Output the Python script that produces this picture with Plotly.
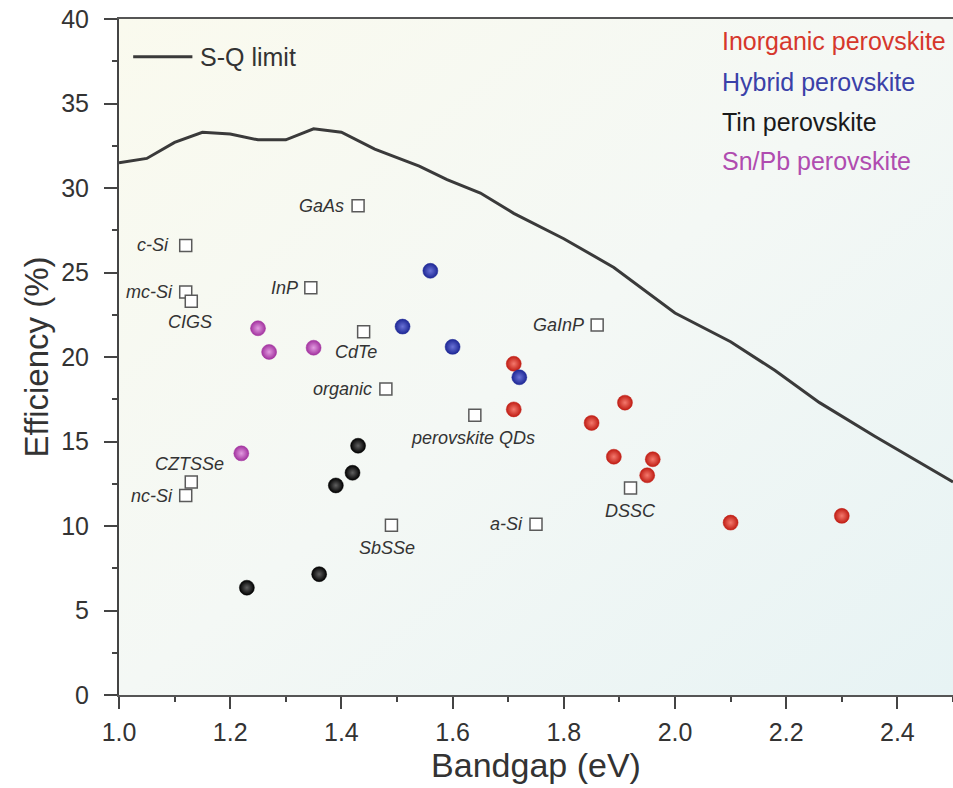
import base64
import plotly.graph_objects as go

# Shockley-Queisser limit curve
sq_bandgap = [1.00, 1.05, 1.10, 1.15, 1.20, 1.25, 1.30, 1.35, 1.40, 1.46, 1.54, 1.59,
              1.65, 1.71, 1.80, 1.89, 2.00, 2.10, 2.18, 2.26, 2.36, 2.50]
sq_eff = [31.5, 31.75, 32.7, 33.3, 33.2, 32.85, 32.85, 33.5, 33.3, 32.3, 31.3, 30.5,
          29.7, 28.5, 27.0, 25.3, 22.6, 20.9, 19.2, 17.3, 15.3, 12.6]

# Perovskite families
inorg_bandgap = [1.71, 1.71, 1.85, 1.91, 1.89, 1.96, 1.95, 2.10, 2.30]
inorg_eff = [19.6, 16.9, 16.1, 17.3, 14.1, 13.95, 13.0, 10.2, 10.6]

hybrid_bandgap = [1.56, 1.51, 1.60, 1.72]
hybrid_eff = [25.1, 21.8, 20.6, 18.8]

tin_bandgap = [1.43, 1.42, 1.39, 1.36, 1.23]
tin_eff = [14.75, 13.15, 12.4, 7.15, 6.35]

snpb_bandgap = [1.25, 1.27, 1.35, 1.22]
snpb_eff = [21.7, 20.3, 20.55, 14.3]

# Other photovoltaic technologies
tech_names = ["GaAs", "c-Si", "mc-Si", "CIGS", "InP", "CdTe", "organic", "perovskite QDs",
              "GaInP", "DSSC", "a-Si", "SbSSe", "CZTSSe", "nc-Si"]
tech_bandgap = [1.43, 1.12, 1.12, 1.13, 1.345, 1.44, 1.48, 1.64,
                1.86, 1.92, 1.75, 1.49, 1.13, 1.12]
tech_eff = [28.95, 26.6, 23.85, 23.3, 24.1, 21.5, 18.1, 16.55,
            21.9, 12.25, 10.1, 10.05, 12.6, 11.8]

# Pixel offsets (dx, dy, anchor) of each technology label relative to its marker
tech_label_place = [(-12, 0, "right"), (-15, 0, "right"), (-11, 0, "right"), (-1, -21, "center"),
                    (-11, 0, "right"), (-8, -20, "center"), (-12, 0, "right"), (-2, -23, "center"),
                    (-11, 0, "right"), (0, -23, "center"), (-11, 0, "right"), (-4, -23, "center"),
                    (-2, 18, "center"), (-11, 0, "right")]

category_names = ["Inorganic perovskite", "Hybrid perovskite", "Tin perovskite", "Sn/Pb perovskite"]
category_colors = ["#d6372c", "#3a41a8", "#1a1a1a", "#b04cb0"]

FONT = "Liberation Sans, Arial, sans-serif"

# Soft diagonal background wash for the plotting area
bg_svg = (
    '<svg xmlns="http://www.w3.org/2000/svg" width="100" height="100" preserveAspectRatio="none">'
    '<defs><linearGradient id="g" x1="0" y1="0" x2="1" y2="1">'
    '<stop offset="0" stop-color="#fafaee"/>'
    '<stop offset="0.5" stop-color="#f4f8f5"/>'
    '<stop offset="1" stop-color="#e7f3f4"/>'
    '</linearGradient></defs>'
    '<rect width="100" height="100" fill="url(#g)"/></svg>'
)
bg_uri = "data:image/svg+xml;base64," + base64.b64encode(bg_svg.encode()).decode()

fig = go.Figure()

fig.add_trace(go.Scatter(
    x=sq_bandgap, y=sq_eff, mode="lines", name="S-Q limit",
    line=dict(color="#3a3a3a", width=3), showlegend=False,
))

fig.add_trace(go.Scatter(
    x=tech_bandgap, y=tech_eff, mode="markers", name="Other PV",
    marker=dict(symbol="square", size=12, color="white",
                line=dict(color="#5a5a5a", width=1.5)),
    showlegend=False,
))

sphere_styles = [("#c01d14", "#f4796d"), ("#1d2795", "#6a72d6"),
                 ("#000000", "#606060"), ("#a2329f", "#e29be0")]
groups = [(inorg_bandgap, inorg_eff), (hybrid_bandgap, hybrid_eff),
          (tin_bandgap, tin_eff), (snpb_bandgap, snpb_eff)]
for (gx, gy), name, (edge, center) in zip(groups, category_names, sphere_styles):
    fig.add_trace(go.Scatter(
        x=gx, y=gy, mode="markers", name=name, showlegend=False,
        marker=dict(size=15, color=edge,
                    gradient=dict(type="radial", color=center),
                    line=dict(color=edge, width=0.5)),
    ))

annotations = []
for name, bx, ey, (dx, dy, anchor) in zip(tech_names, tech_bandgap, tech_eff, tech_label_place):
    annotations.append(dict(
        x=bx, y=ey, xref="x", yref="y", text=name, showarrow=False,
        xanchor=anchor, yanchor="middle", xshift=dx, yshift=dy,
        font=dict(family=FONT, size=18, color="#333333", style="italic"),
    ))

cat_y = [0.9675, 0.907, 0.848, 0.790]
for name, color, py in zip(category_names, category_colors, cat_y):
    annotations.append(dict(
        x=0.721, y=py, xref="paper", yref="paper", text=name, showarrow=False,
        xanchor="left", yanchor="middle",
        font=dict(family=FONT, size=25, color=color),
    ))

annotations.append(dict(
    x=0.095, y=0.944, xref="paper", yref="paper", text="S-Q limit", showarrow=False,
    xanchor="left", yanchor="middle", font=dict(family=FONT, size=25, color="#333333"),
))

fig.update_layout(
    width=953, height=788,
    margin=dict(l=119, r=0, t=19, b=93),
    paper_bgcolor="white",
    plot_bgcolor="rgba(0,0,0,0)",
    font=dict(family=FONT, color="#333333"),
    annotations=annotations,
    shapes=[dict(type="line", xref="paper", yref="paper",
                 x0=0.017, x1=0.088, y0=0.944, y1=0.944,
                 line=dict(color="#3a3a3a", width=3))],
    images=[dict(source=bg_uri, xref="x", yref="y", x=1.0, y=40,
                 sizex=1.5, sizey=40, sizing="stretch", layer="below")],
)

fig.update_xaxes(
    range=[1.0, 2.5], dtick=0.2, tick0=1.0, tickformat=".1f",
    showgrid=False, zeroline=False,
    showline=True, linecolor="#555555", linewidth=2, mirror=True,
    ticks="outside", ticklen=12, tickwidth=1.5, tickcolor="#444444",
    minor=dict(ticks="outside", dtick=0.1, ticklen=5, tickwidth=1.5, tickcolor="#444444"),
    tickfont=dict(family=FONT, size=25, color="#333333"),
    ticklabelstandoff=2,
    title=dict(text="Bandgap (eV)", font=dict(family=FONT, size=34, color="#333333"), standoff=4),
)

fig.update_yaxes(
    range=[0, 40], dtick=5,
    showgrid=False, zeroline=False,
    showline=True, linecolor="#444444", linewidth=2,
    ticks="outside", ticklen=13, tickwidth=1.5, tickcolor="#444444",
    minor=dict(ticks="outside", dtick=2.5, ticklen=5, tickwidth=1.5, tickcolor="#444444"),
    tickfont=dict(family=FONT, size=25, color="#333333"),
    ticklabelstandoff=10,
    title=dict(text="Efficiency (%)", font=dict(family=FONT, size=33, color="#333333"), standoff=3),
)

fig.write_html("out.html")
